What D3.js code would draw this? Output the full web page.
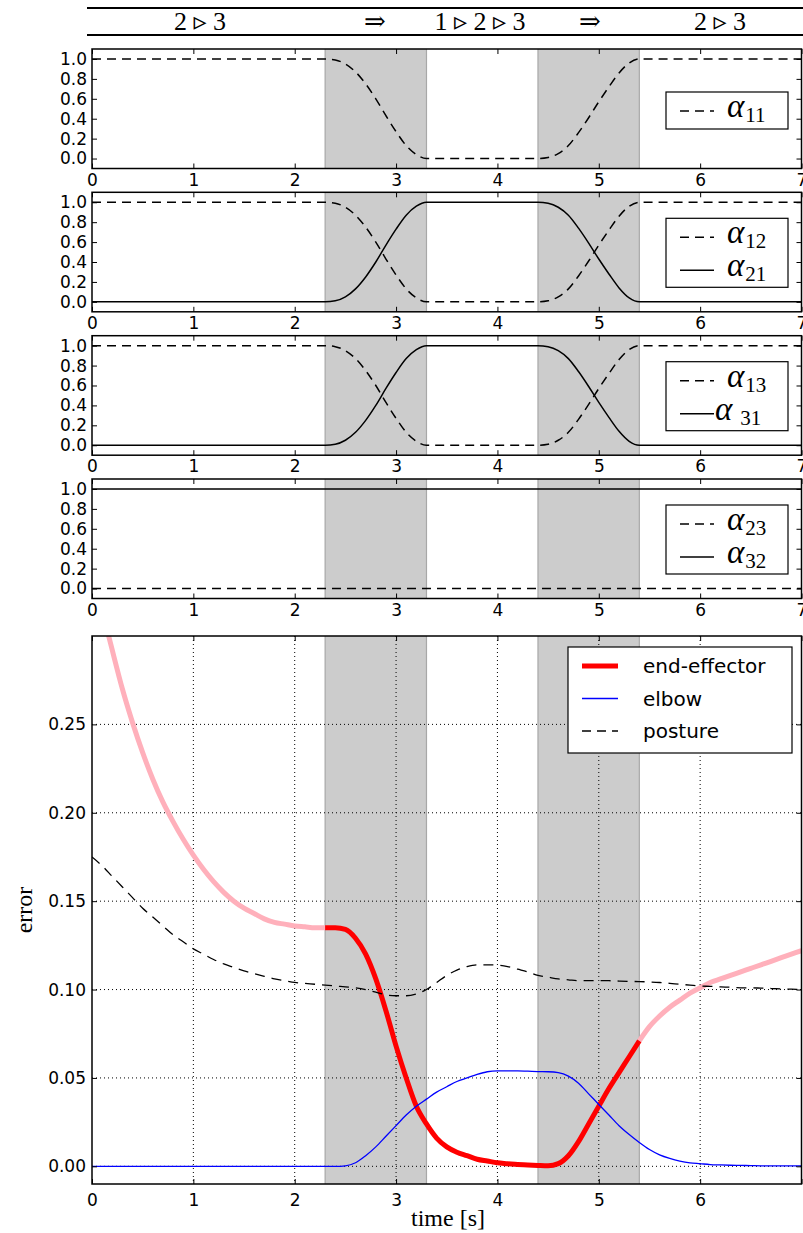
<!DOCTYPE html>
<html>
<head>
<meta charset="utf-8">
<script src="https://cdn.jsdelivr.net/npm/d3@7"></script>
<style>
body { margin: 0; background: #fff; }
svg { display: block; }
</style>
</head>
<body>
<div id="chart"></div>
<script>
// ---- data ----
var phases = [[2.3, 3.3], [4.4, 5.4]];
var activeWindow = [2.3, 5.4];
var headerLabels = ["2 \u25B9 3", "\u21D2", "1 \u25B9 2 \u25B9 3", "\u21D2", "2 \u25B9 3"];

var alphaTime = [0, 2.3, 2.4, 2.5, 2.6, 2.7, 2.8, 2.9, 3.0, 3.1, 3.2, 3.3,
                 4.4, 4.5, 4.6, 4.7, 4.8, 4.9, 5.0, 5.1, 5.2, 5.3, 5.4, 7];
var alpha11 = [1, 1, 0.99, 0.95, 0.87, 0.75, 0.60, 0.43, 0.27, 0.13, 0.04, 0,
               0, 0.01, 0.05, 0.13, 0.26, 0.41, 0.57, 0.72, 0.86, 0.96, 1, 1];
var alpha12 = [1, 1, 0.99, 0.95, 0.87, 0.75, 0.60, 0.43, 0.27, 0.13, 0.04, 0,
               0, 0.01, 0.05, 0.13, 0.26, 0.41, 0.57, 0.72, 0.86, 0.96, 1, 1];
var alpha21 = [0, 0, 0.01, 0.05, 0.13, 0.25, 0.40, 0.57, 0.73, 0.87, 0.96, 1,
               1, 0.99, 0.95, 0.87, 0.74, 0.59, 0.43, 0.28, 0.14, 0.04, 0, 0];
var alpha13 = [1, 1, 0.99, 0.95, 0.87, 0.75, 0.60, 0.43, 0.27, 0.13, 0.04, 0,
               0, 0.01, 0.05, 0.13, 0.26, 0.41, 0.57, 0.72, 0.86, 0.96, 1, 1];
var alpha31 = [0, 0, 0.01, 0.05, 0.13, 0.25, 0.40, 0.57, 0.73, 0.87, 0.96, 1,
               1, 0.99, 0.95, 0.87, 0.74, 0.59, 0.43, 0.28, 0.14, 0.04, 0, 0];
var alpha23 = [0, 0, 0, 0, 0, 0, 0, 0, 0, 0, 0, 0, 0, 0, 0, 0, 0, 0, 0, 0, 0, 0, 0, 0];
var alpha32 = [1, 1, 1, 1, 1, 1, 1, 1, 1, 1, 1, 1, 1, 1, 1, 1, 1, 1, 1, 1, 1, 1, 1, 1];
var alphaTicks = [0, 0.2, 0.4, 0.6, 0.8, 1.0];

var time = [0, 0.1, 0.2, 0.3, 0.4, 0.5, 0.6, 0.7, 0.8, 0.9,
            1.0, 1.1, 1.2, 1.3, 1.4, 1.5, 1.6, 1.7, 1.8, 1.9,
            2.0, 2.1, 2.2, 2.3, 2.4, 2.5, 2.6, 2.7, 2.8, 2.9,
            3.0, 3.1, 3.2, 3.3, 3.4, 3.5, 3.6, 3.7, 3.8, 3.9,
            4.0, 4.1, 4.2, 4.3, 4.4, 4.5, 4.6, 4.7, 4.8, 4.9,
            5.0, 5.1, 5.2, 5.3, 5.4, 5.5, 5.6, 5.7, 5.8, 5.9,
            6.0, 6.1, 6.2, 6.3, 6.4, 6.5, 6.6, 6.7, 6.8, 6.9, 7.0];
var endEffector = [0.340, 0.315, 0.292, 0.270, 0.251, 0.234, 0.219, 0.206, 0.195, 0.185,
                   0.176, 0.168, 0.161, 0.155, 0.150, 0.146, 0.143, 0.140, 0.138, 0.137,
                   0.136, 0.1355, 0.135, 0.135, 0.135, 0.134, 0.129, 0.120, 0.106, 0.088,
                   0.068, 0.050, 0.034, 0.024, 0.016, 0.011, 0.008, 0.006, 0.004, 0.003,
                   0.002, 0.0015, 0.001, 0.0008, 0.0005, 0.0003, 0.0015, 0.006, 0.014, 0.024,
                   0.034, 0.044, 0.053, 0.062, 0.071, 0.079, 0.085, 0.090, 0.094, 0.098,
                   0.101, 0.104, 0.106, 0.108, 0.110, 0.112, 0.114, 0.116, 0.118, 0.120, 0.122];
var elbow = [0, 0, 0, 0, 0, 0, 0, 0, 0, 0,
             0, 0, 0, 0, 0, 0, 0, 0, 0, 0,
             0, 0, 0, 0, 0, 0.0003, 0.002, 0.006, 0.011, 0.017,
             0.023, 0.029, 0.034, 0.038, 0.042, 0.045, 0.048, 0.050, 0.052, 0.0535,
             0.054, 0.054, 0.054, 0.0538, 0.0536, 0.0535, 0.053, 0.051, 0.047, 0.041,
             0.035, 0.029, 0.023, 0.018, 0.0135, 0.0095, 0.0065, 0.0045, 0.003, 0.002,
             0.0015, 0.001, 0.0008, 0.0006, 0.0005, 0.0004, 0.0003, 0.0003, 0.0002, 0.0002, 0.0002];
var posture = [0.175, 0.170, 0.164, 0.158, 0.152, 0.146, 0.141, 0.136, 0.131, 0.127,
               0.123, 0.120, 0.117, 0.1145, 0.1125, 0.1105, 0.109, 0.1075, 0.106, 0.105,
               0.104, 0.1035, 0.103, 0.1025, 0.102, 0.1015, 0.101, 0.100, 0.0985, 0.097,
               0.0965, 0.0965, 0.0975, 0.100, 0.104, 0.108, 0.111, 0.113, 0.114, 0.114,
               0.1138, 0.113, 0.1115, 0.110, 0.108, 0.107, 0.106, 0.1055, 0.105, 0.105,
               0.105, 0.105, 0.1048, 0.1046, 0.1045, 0.1043, 0.104, 0.1035, 0.103, 0.1025,
               0.102, 0.1018, 0.1015, 0.1013, 0.101, 0.101, 0.1008, 0.1006, 0.1004, 0.1002, 0.100];
var errorTicks = [0, 0.05, 0.10, 0.15, 0.20, 0.25];
var timeTicks = [0, 1, 2, 3, 4, 5, 6, 7];

// ---- drawing ----
var W = 803, H = 1233;
var svg = d3.select("#chart").append("svg")
    .attr("width", W).attr("height", H)
    .style("font-family", "'DejaVu Sans', sans-serif");

var x = d3.scaleLinear().domain([0, 7]).range([92, 801.5]);
var serif = "'Liberation Serif', 'DejaVu Serif', serif";

// header band
svg.append("line").attr("x1", 87).attr("x2", W).attr("y1", 8).attr("y2", 8)
    .attr("stroke", "#000").attr("stroke-width", 2);
svg.append("line").attr("x1", 87).attr("x2", W).attr("y1", 35).attr("y2", 35)
    .attr("stroke", "#000").attr("stroke-width", 2);
var headerX = [200, 375, 480, 590, 720];
svg.selectAll("text.header").data(headerLabels).enter().append("text")
    .attr("class", "header")
    .attr("x", function(d, i) { return headerX[i]; })
    .attr("y", 30)
    .attr("text-anchor", "middle")
    .style("font-family", serif)
    .style("font-size", "26px")
    .text(function(d) { return d; });

function styleAxis(g) {
    g.select(".domain").remove();
    g.selectAll(".tick line").attr("stroke", "#000").attr("stroke-width", 1);
    g.selectAll(".tick text").attr("fill", "#000").style("font-size", "17px")
        .style("font-family", "'DejaVu Sans', sans-serif");
}

function shade(g, top, bottom) {
    phases.forEach(function(p) {
        g.append("rect")
            .attr("x", x(p[0])).attr("width", x(p[1]) - x(p[0]))
            .attr("y", top).attr("height", bottom - top)
            .attr("fill", "#cccccc");
        [p[0], p[1]].forEach(function(v) {
            g.append("line").attr("x1", x(v)).attr("x2", x(v))
                .attr("y1", top).attr("y2", bottom)
                .attr("stroke", "#a8a8a8").attr("stroke-width", 1.2);
        });
    });
}

// ---- four alpha panels ----
var panels = [
    { top: 49,    dash: alpha11, solid: null,    names: ["11"] },
    { top: 192.3, dash: alpha12, solid: alpha21, names: ["12", "21"] },
    { top: 335.7, dash: alpha13, solid: alpha31, names: ["13", " 31"] },
    { top: 479,   dash: alpha23, solid: alpha32, names: ["23", "32"] }
];
var panelH = 119.5;

panels.forEach(function(p, pi) {
    var top = p.top, bottom = top + panelH;
    var y = d3.scaleLinear().domain([-0.1, 1.1]).range([bottom, top]);
    var g = svg.append("g");
    var clipId = "clip" + pi;
    svg.append("clipPath").attr("id", clipId).append("rect")
        .attr("x", x(0)).attr("y", top).attr("width", x(7) - x(0)).attr("height", panelH);

    shade(g, top, bottom);

    var line = d3.line()
        .x(function(d) { return x(d[0]); })
        .y(function(d) { return y(d[1]); })
        .curve(d3.curveMonotoneX);
    var lines = g.append("g").attr("clip-path", "url(#" + clipId + ")");
    lines.append("path")
        .datum(d3.zip(alphaTime, p.dash))
        .attr("d", line).attr("fill", "none")
        .attr("stroke", "#000").attr("stroke-width", 1.5)
        .attr("stroke-dasharray", "9,6");
    if (p.solid) {
        lines.append("path")
            .datum(d3.zip(alphaTime, p.solid))
            .attr("d", line).attr("fill", "none")
            .attr("stroke", "#000").attr("stroke-width", 1.5);
    }

    g.append("g").attr("transform", "translate(" + x(0) + ",0)")
        .call(d3.axisLeft(y).tickValues(alphaTicks).tickSize(-5).tickPadding(5)
            .tickFormat(d3.format(".1f")))
        .call(styleAxis);
    g.append("g").attr("transform", "translate(" + x(7) + ",0)")
        .call(d3.axisRight(y).tickValues(alphaTicks).tickSize(-5).tickFormat(""))
        .call(styleAxis);
    g.append("g").attr("transform", "translate(0," + bottom + ")")
        .call(d3.axisBottom(x).tickValues(timeTicks).tickSize(-5).tickPadding(5)
            .tickFormat(d3.format("d")))
        .call(styleAxis);
    g.append("g").attr("transform", "translate(0," + top + ")")
        .call(d3.axisTop(x).tickValues(timeTicks).tickSize(-5).tickFormat(""))
        .call(styleAxis);

    g.append("rect").attr("x", x(0)).attr("y", top)
        .attr("width", x(7) - x(0)).attr("height", panelH)
        .attr("fill", "none").attr("stroke", "#000").attr("stroke-width", 1.5);

    // legend
    var lg = g.append("g");
    var boxTop = p.solid ? top + 26 : top + 43;
    var boxH = p.solid ? 69 : 37;
    lg.append("rect").attr("x", 666).attr("y", boxTop).attr("width", 122).attr("height", boxH)
        .attr("fill", "#fff").attr("stroke", "#000").attr("stroke-width", 1.2);
    var rows = p.solid ? [boxTop + 19, boxTop + 52] : [boxTop + 19];
    rows.forEach(function(ry, ri) {
        var dashed = ri === 0;
        var tight = p.names[ri].charAt(0) === " ";
        lg.append("line").attr("x1", 680).attr("x2", 714)
            .attr("y1", ry).attr("y2", ry)
            .attr("stroke", "#000").attr("stroke-width", 1.5)
            .attr("stroke-dasharray", dashed ? "9,6" : null);
        var t = lg.append("text").attr("x", tight ? 715 : 727).attr("y", ry + 6)
            .style("font-family", serif);
        t.append("tspan").style("font-style", "italic").style("font-size", "33px").text("\u03B1");
        t.append("tspan").attr("dy", 5).attr("dx", tight ? 8 : 1)
            .style("font-size", "21px").text(p.names[ri].trim());
    });
});

// ---- main error panel ----
var mTop = 636, mBottom = 1184;
var yE = d3.scaleLinear().domain([-0.01, 0.30]).range([mBottom, mTop]);
var gm = svg.append("g");
svg.append("clipPath").attr("id", "clipMain").append("rect")
    .attr("x", x(0)).attr("y", mTop).attr("width", x(7) - x(0)).attr("height", mBottom - mTop);

shade(gm, mTop, mBottom);

// dotted grid
gm.selectAll("line.gx").data(timeTicks.slice(1, 7)).enter().append("line")
    .attr("x1", function(d) { return x(d); }).attr("x2", function(d) { return x(d); })
    .attr("y1", mTop).attr("y2", mBottom)
    .attr("stroke", "#000").attr("stroke-width", 1).attr("stroke-dasharray", "1,3");
gm.selectAll("line.gy").data(errorTicks).enter().append("line")
    .attr("x1", x(0)).attr("x2", x(7))
    .attr("y1", function(d) { return yE(d); }).attr("y2", function(d) { return yE(d); })
    .attr("stroke", "#000").attr("stroke-width", 1).attr("stroke-dasharray", "1,3");

var rows = d3.zip(time, endEffector, elbow, posture);
var lineE = function(idx) {
    return d3.line()
        .x(function(d) { return x(d[0]); })
        .y(function(d) { return yE(d[idx]); })
        .curve(d3.curveMonotoneX);
};
var plot = gm.append("g").attr("clip-path", "url(#clipMain)");
var before = rows.filter(function(d) { return d[0] <= activeWindow[0] + 1e-9; });
var during = rows.filter(function(d) { return d[0] >= activeWindow[0] - 1e-9 && d[0] <= activeWindow[1] + 1e-9; });
var after = rows.filter(function(d) { return d[0] >= activeWindow[1] - 1e-9; });
[before, after].forEach(function(seg) {
    plot.append("path").datum(seg).attr("d", lineE(1)).attr("fill", "none")
        .attr("stroke", "#ffb0bb").attr("stroke-width", 5);
});
plot.append("path").datum(during).attr("d", lineE(1)).attr("fill", "none")
    .attr("stroke", "#ff0000").attr("stroke-width", 5);
plot.append("path").datum(rows).attr("d", lineE(2)).attr("fill", "none")
    .attr("stroke", "#0000ff").attr("stroke-width", 1.3);
plot.append("path").datum(rows).attr("d", lineE(3)).attr("fill", "none")
    .attr("stroke", "#000").attr("stroke-width", 1.3).attr("stroke-dasharray", "10,7");

gm.append("g").attr("transform", "translate(" + x(0) + ",0)")
    .call(d3.axisLeft(yE).tickValues(errorTicks).tickSize(-5).tickPadding(6)
        .tickFormat(d3.format(".2f")))
    .call(styleAxis);
gm.append("g").attr("transform", "translate(" + x(7) + ",0)")
    .call(d3.axisRight(yE).tickValues(errorTicks).tickSize(-5).tickFormat(""))
    .call(styleAxis);
gm.append("g").attr("transform", "translate(0," + mBottom + ")")
    .call(d3.axisBottom(x).tickValues(timeTicks).tickSize(-5).tickPadding(10)
        .tickFormat(function(d) { return d < 7 ? d : ""; }))
    .call(styleAxis);
gm.append("g").attr("transform", "translate(0," + mTop + ")")
    .call(d3.axisTop(x).tickValues(timeTicks).tickSize(-5).tickFormat(""))
    .call(styleAxis);
gm.append("rect").attr("x", x(0)).attr("y", mTop)
    .attr("width", x(7) - x(0)).attr("height", mBottom - mTop)
    .attr("fill", "none").attr("stroke", "#000").attr("stroke-width", 1.5);

// legend
var legendItems = [
    { label: "end-effector", color: "#ff0000", width: 5, dash: null },
    { label: "elbow", color: "#0000ff", width: 1.3, dash: null },
    { label: "posture", color: "#000", width: 1.3, dash: "9,6" }
];
var lgm = gm.append("g");
lgm.append("rect").attr("x", 568).attr("y", 647).attr("width", 224).attr("height", 106)
    .attr("fill", "#fff").attr("stroke", "#000").attr("stroke-width", 1.2);
legendItems.forEach(function(it, i) {
    var ry = 666 + i * 32.5;
    lgm.append("line").attr("x1", 582).attr("x2", 618).attr("y1", ry).attr("y2", ry)
        .attr("stroke", it.color).attr("stroke-width", it.width)
        .attr("stroke-dasharray", it.dash);
    lgm.append("text").attr("x", 643).attr("y", ry + 7)
        .style("font-size", "20px").text(it.label);
});

// axis titles
svg.append("text").attr("x", 448).attr("y", 1226).attr("text-anchor", "middle")
    .style("font-family", serif).style("font-size", "24px").text("time [s]");
svg.append("text").attr("transform", "translate(32,910) rotate(-90)")
    .attr("text-anchor", "middle")
    .style("font-family", serif).style("font-size", "24px").text("error");
</script>
</body>
</html>
